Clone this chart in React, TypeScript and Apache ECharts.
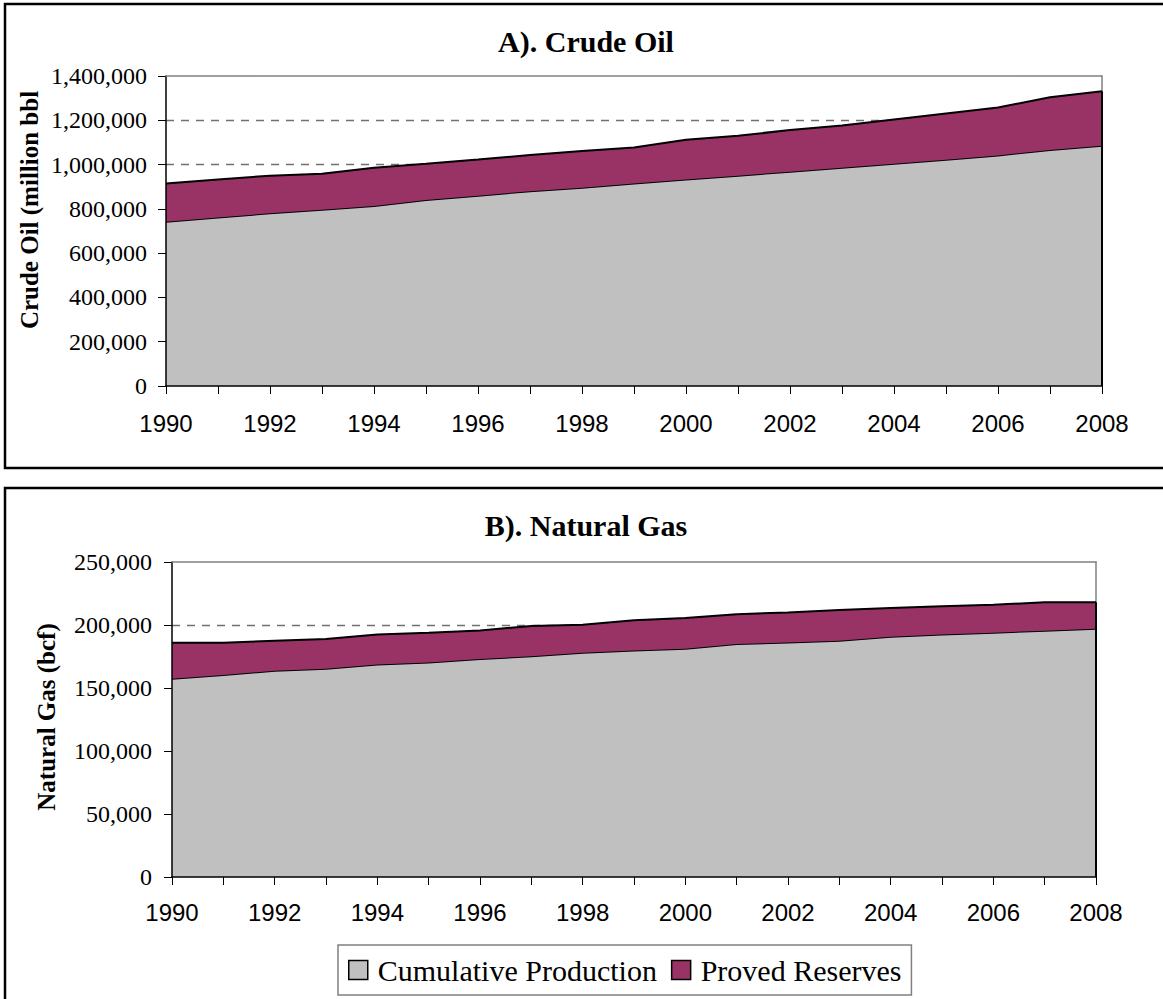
import React, { useEffect, useRef } from "react";
import * as echarts from "echarts";

const years = ["1990","1991","1992","1993","1994","1995","1996","1997","1998","1999","2000","2001","2002","2003","2004","2005","2006","2007","2008"];

const oilCumulative = [742000,761000,780000,796000,813000,840000,859000,880000,895000,915000,933000,950000,968000,986000,1004000,1022000,1041000,1066000,1085000];
const oilReserves = [173000,172000,170000,163000,173000,164000,164000,163000,166000,162000,179000,180000,188000,190000,200000,209000,217000,238000,246000];

const gasCumulative = [157400,160300,163700,165200,168700,170300,173000,175200,178000,179800,181200,184900,186200,187500,190700,192500,193900,195500,197000];
const gasReserves = [28600,25700,23800,23700,23800,23600,22700,24000,22200,23900,24400,23600,23800,24400,22800,22300,22200,22500,21000];

const seriesNames = ["Cumulative Production", "Proved Reserves"];
const titles = ["A). Crude Oil", "B). Natural Gas"];
const yNames = ["Crude Oil (million bbl", "Natural Gas (bcf)"];

const GRAY = "#C0C0C0";
const PLUM = "#993366";
const SERIF = "'Liberation Serif', 'Times New Roman', serif";
const SANS = "'Liberation Sans', Arial, sans-serif";

export default function App() {
  const ref = useRef<HTMLDivElement>(null);
  useEffect(() => {
    if (!ref.current) return;
    const chart = echarts.init(ref.current, undefined, { renderer: "svg" });

    const grids = [
      { left: 166, top: 76, width: 936, height: 310 },
      { left: 172, top: 562, width: 924, height: 315 },
    ];
    const yMax = [1400000, 250000];
    const yInt = [200000, 50000];
    const labelMargin = [19, 20];
    const xMargin = [25, 23];

    const xAxes: any[] = [];
    const yAxes: any[] = [];
    grids.forEach((g, i) => {
      xAxes.push({
        gridIndex: i, type: "category", data: years, boundaryGap: false, position: "bottom", z: 5,
        axisLine: { show: true, onZero: false, lineStyle: { color: "#000", width: 1.5 } },
        axisTick: { show: true, interval: 0, length: 8, lineStyle: { color: "#000", width: 1 } },
        axisLabel: { interval: 1, fontFamily: SANS, fontSize: 24, color: "#000", margin: xMargin[i] },
        splitLine: { show: false },
      });
      xAxes.push({
        gridIndex: i, type: "category", data: years, boundaryGap: false, position: "top", z: 6,
        axisLine: { show: true, onZero: false, lineStyle: { color: "#808080", width: 1.5 } },
        axisTick: { show: false }, axisLabel: { show: false }, splitLine: { show: false },
      });
      yAxes.push({
        gridIndex: i, type: "value", min: 0, max: yMax[i], interval: yInt[i], position: "left", z: 0,
        axisLine: { show: false, onZero: false }, axisTick: { show: false }, axisLabel: { show: false },
        splitLine: { show: true, showMinLine: false, showMaxLine: false, lineStyle: { color: "#707070", width: 1.3, type: [8, 7] } },
      });
      yAxes.push({
        gridIndex: i, type: "value", min: 0, max: yMax[i], interval: yInt[i], position: "left", z: 5,
        axisLine: { show: true, onZero: false, lineStyle: { color: "#000", width: 1.5 } },
        axisTick: { show: true, length: 8, lineStyle: { color: "#000", width: 1 } },
        axisLabel: {
          fontFamily: SERIF, fontSize: 24, color: "#000", margin: labelMargin[i],
          formatter: (v: number) => v.toLocaleString("en-US"),
        },
        splitLine: { show: false },
      });
      yAxes.push({
        gridIndex: i, type: "value", min: 0, max: yMax[i], interval: yInt[i], position: "right", z: 0,
        axisLine: { show: true, onZero: false, lineStyle: { color: "#808080", width: 1.5 } },
        axisTick: { show: false }, axisLabel: { show: false }, splitLine: { show: false },
      });
    });

    const datasets = [
      [oilCumulative, oilReserves],
      [gasCumulative, gasReserves],
    ];
    const series: any[] = [];
    datasets.forEach((pair, i) => {
      const totalLast = pair[0][pair[0].length - 1] + pair[1][pair[1].length - 1];
      pair.forEach((vals, j) => {
        series.push({
          name: seriesNames[j],
          type: "line",
          xAxisIndex: i * 2,
          yAxisIndex: i * 3,
          stack: "s" + i,
          data: vals,
          showSymbol: false,
          symbol: "none",
          lineStyle: { color: "#000", width: 2 },
          areaStyle: { color: j === 0 ? GRAY : PLUM, opacity: 1 },
          z: 2 + j,
          markLine: j === 1 ? {
            silent: true, symbol: "none", label: { show: false },
            lineStyle: { color: "#000", width: 2, type: "solid" },
            data: [[{ coord: [years[years.length - 1], 0] }, { coord: [years[years.length - 1], totalLast] }]],
          } : undefined,
        });
      });
    });

    const graphics: any[] = [
      { type: "rect", shape: { x: 5, y: 4, width: 1200, height: 464 }, style: { fill: "none", stroke: "#000", lineWidth: 2.5 }, z: 10 },
      { type: "rect", shape: { x: 5, y: 488, width: 1200, height: 600 }, style: { fill: "none", stroke: "#000", lineWidth: 2.5 }, z: 10 },
      { type: "text", x: 586, y: 26, style: { text: titles[0], font: `bold 30px ${SERIF}`, fill: "#000", align: "center", verticalAlign: "top" } },
      { type: "text", x: 586, y: 510, style: { text: titles[1], font: `bold 30px ${SERIF}`, fill: "#000", align: "center", verticalAlign: "top" } },
      { type: "text", x: 29, y: 210, rotation: Math.PI / 2, style: { text: yNames[0], font: `bold 25px ${SERIF}`, fill: "#000", align: "center", verticalAlign: "middle" } },
      { type: "text", x: 46, y: 717, rotation: Math.PI / 2, style: { text: yNames[1], font: `bold 25px ${SERIF}`, fill: "#000", align: "center", verticalAlign: "middle" } },
    ];

    chart.setOption({
      animation: false,
      backgroundColor: "#fff",
      grid: grids.map((g) => ({ ...g, show: false })),
      xAxis: xAxes,
      yAxis: yAxes,
      series,
      legend: {
        show: true,
        left: 338, top: 945,
        padding: [10, 10, 10, 10],
        itemWidth: 19, itemHeight: 19, itemGap: 14,
        icon: "rect",
        borderColor: "#808080", borderWidth: 1.5,
        textStyle: { fontFamily: SERIF, fontSize: 30, color: "#000", padding: [0, 0, 0, 5] },
        data: [
          { name: seriesNames[0], itemStyle: { color: GRAY, borderColor: "#000", borderWidth: 1.5 } },
          { name: seriesNames[1], itemStyle: { color: PLUM, borderColor: "#000", borderWidth: 1.5 } },
        ],
        selectedMode: false,
      },
      graphic: graphics,
    });
    return () => chart.dispose();
  }, []);
  return <div ref={ref} style={{ position: "fixed", left: 0, top: 0, width: 1163, height: 999 }} />;
}
